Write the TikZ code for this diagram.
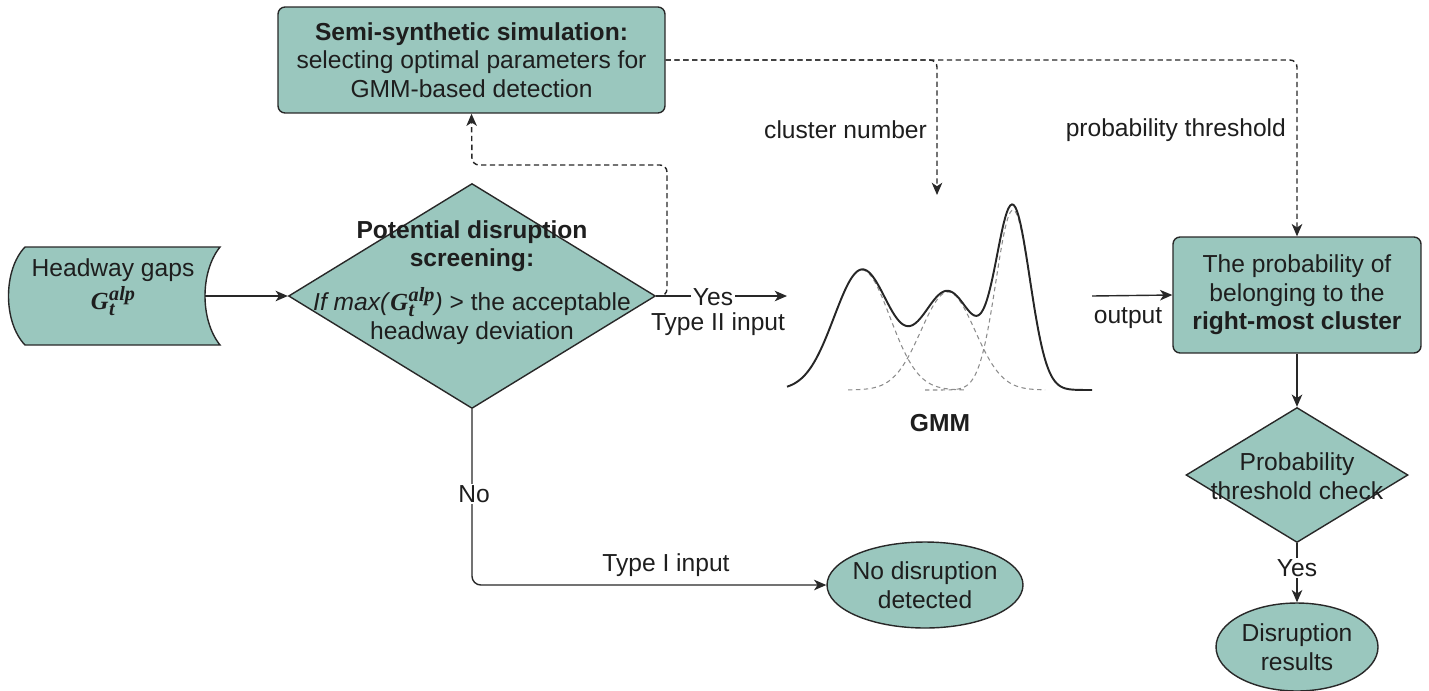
\documentclass[tikz,border=0pt]{standalone}
\usepackage{fontspec}
\setmainfont{Liberation Sans}
\newfontfamily\serifbi{Liberation Serif}
\usetikzlibrary{shapes.geometric,arrows.meta}
\definecolor{tealfill}{RGB}{154,199,190}
\definecolor{edgec}{RGB}{40,40,40}
\definecolor{txtc}{RGB}{30,30,30}
\newcommand{\Galp}{{\serifbi\bfseries\itshape G\kern0.3pt\rlap{\raisebox{-0.5ex}{\fontsize{11.5}{12}\selectfont t}}\raisebox{0.8ex}{\fontsize{11.5}{12}\selectfont alp}}}
\begin{document}
\begin{tikzpicture}[x=0.02cm,y=-0.02cm,
  font=\fontsize{14}{16.2}\selectfont, text=txtc,
  declare function={gau(\xv,\mv,\sv,\av)=\av*exp(-min(0.5*((\xv-\mv)/\sv)^2,20));},
  shapebox/.style={draw=edgec, fill=tealfill, line width=0.8pt, rounded corners=4pt, align=center, inner sep=0pt},
  diam/.style={draw=edgec, fill=tealfill, line width=0.8pt, diamond, inner sep=0pt},
  oval/.style={draw=edgec, fill=tealfill, line width=0.8pt, ellipse, inner sep=0pt},
  lbl/.style={align=center, inner sep=1pt},
  wlbl/.style={lbl, fill=white},
  conn/.style={draw=edgec, line width=0.8pt, -{Stealth[length=7pt,width=6pt,inset=2pt]}},
  dconn/.style={conn, dash pattern=on 3pt off 2pt, rounded corners=4pt},
  gmmline/.style={draw=black!85, line width=1.1pt},
  gmmdash/.style={draw=black!45, line width=0.6pt, dash pattern=on 2.5pt off 2pt}]
\useasboundingbox (0,0) rectangle (1429,690);

% Headway gaps (stored data shape)
\draw[draw=edgec, fill=tealfill, line width=0.8pt]
  (25,247) -- (220,247) .. controls (200,272) and (200,320) .. (220,345)
  -- (25,345) .. controls (3,322) and (3,270) .. (25,247) -- cycle;
\node[lbl] (hg) at (113,287) {Headway gaps\\[3pt]\Galp};
\coordinate (hgout) at (205,296);

% Screening diamond
\node[diam, minimum width=7.34cm, minimum height=4.5cm] (d1) at (472,296) {};
\node[lbl, font=\fontsize{14}{16.2}\selectfont\bfseries] (d1title) at (472,246) {Potential disruption\\screening:};
\node[lbl] (d1body) at (472,316) {\textit{If max(}\Galp\textit{)} > the acceptable\\headway deviation};

% Semi-synthetic simulation
\node[shapebox, minimum width=7.74cm, minimum height=2.12cm] (semi) at (471.5,60)
  {\textbf{Semi-synthetic simulation:}\\selecting optimal parameters for\\GMM-based detection};

% Right box
\node[shapebox, minimum width=4.96cm, minimum height=2.32cm] (rbox) at (1297,295)
  {The probability of\\belonging to the\\\textbf{right-most cluster}};

% Threshold diamond
\node[diam, minimum width=4.44cm, minimum height=2.7cm] (d2) at (1297,475) {};
\node[lbl] (d2t) at (1297,476) {Probability\\threshold check};

% Ovals
\node[oval, minimum width=3.92cm, minimum height=1.72cm] (nodis) at (925,585) {};
\node[lbl] (nodist) at (nodis) {No disruption\\detected};
\node[oval, minimum width=3.24cm, minimum height=1.76cm] (dres) at (1297,647) {};
\node[lbl] (drest) at (dres) {Disruption\\results};

% GMM figure
\coordinate (gmmin) at (787,296);
\coordinate (gmmout) at (1092,296);
\coordinate (gmmtop) at (937,195);
\draw[gmmdash] plot[domain=862:965, samples=60, smooth] (\x,{390-gau(\x,862,28,120)});
\draw[gmmdash] plot[domain=848:1045, samples=90, smooth] (\x,{390-gau(\x,948,27,98)});
\draw[gmmdash] plot[domain=925:1045, samples=70, smooth] (\x,{390-gau(\x,1013,17,180)});
\draw[gmmline] plot[domain=787:1092, samples=180, smooth]
  (\x,{390-gau(\x,862,28,120)-gau(\x,948,27,98)-gau(\x,1013,17,180)});
\node[lbl, font=\fontsize{14}{16.2}\selectfont\bfseries] (gmmlbl) at (940,423) {GMM};

% Connectors
\draw[conn] (hgout) -- (d1.west);
\draw[conn] (d1.east) -- (gmmin);
\node[wlbl] (yes1) at (713,297) {Yes};
\node[lbl] (type2) at (718,324) {Type II input};
\draw[dconn] (d1.east) -- (667,296) -- (667,165) -- (472,165) -- (semi.south);
\draw[dconn] (semi.east) -| (gmmtop);
\draw[dconn] (semi.east) -| (rbox.north);
\node[lbl, anchor=east] (clnum) at (929,130) {cluster number};
\node[lbl, anchor=east] (pthr) at (1288,130) {probability threshold};
\draw[conn] (gmmout) -- (rbox.west);
\node[lbl] (outl) at (1128,318) {output};
\draw[conn] (rbox.south) -- (d2.north);
\draw[conn] (d2.south) -- (dres.north);
\node[wlbl] (yes2) at (1297,568) {Yes};
\draw[conn, rounded corners=5pt] (d1.south) |- (nodis.west);
\node[wlbl] (no1) at (474,494) {No};
\node[lbl] (type1) at (666,565) {Type I input};
\end{tikzpicture}
\end{document}
